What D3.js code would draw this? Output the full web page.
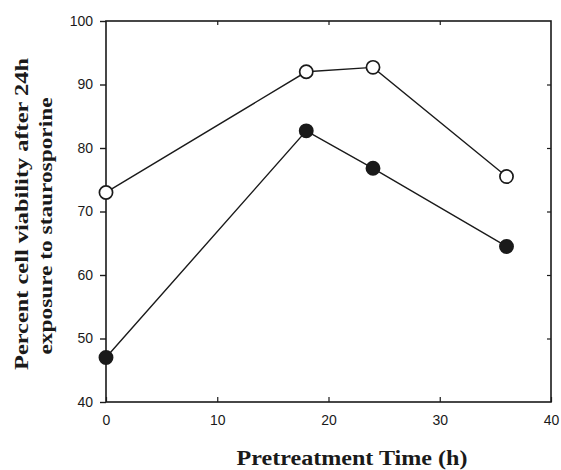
<!DOCTYPE html>
<html><head><meta charset="utf-8">
<script src="https://cdn.jsdelivr.net/npm/d3@7"></script>
<style>body{margin:0;background:#fff}</style>
</head><body>
<svg id="c" width="561" height="470"></svg>
<script>
const times = [0, 18, 24, 36];
const openValues = [73, 92, 92.7, 75.5];
const filledValues = [47, 82.7, 76.8, 64.5];
const xTicks = [0, 10, 20, 30, 40];
const yTicks = [40, 50, 60, 70, 80, 90, 100];
const xTitle = "Pretreatment Time (h)";
const yTitle = ["Percent cell viability after 24h", "exposure to staurosporine"];

const svg = d3.select("#c");
const L = 106, R = 551, T = 21, B = 402;
const x = d3.scaleLinear().domain([0, 40]).range([L, R]);
const y = d3.scaleLinear().domain([40, 100]).range([B, T]);
const ink = "#1a1a1a";

// frame
svg.append("rect").attr("x", L).attr("y", T).attr("width", R - L).attr("height", B - T)
  .attr("fill", "none").attr("stroke", ink).attr("stroke-width", 1.6);

// left axis ticks outward
const ay = svg.append("g").attr("transform", `translate(${L},0)`)
  .call(d3.axisLeft(y).tickValues(yTicks).tickSize(6).tickPadding(7).tickFormat(d3.format("d")));
ay.select(".domain").remove();
ay.selectAll("line").attr("stroke", ink).attr("stroke-width", 1.4);
ay.selectAll("text").attr("font-family", "Liberation Sans, Arial, sans-serif").attr("font-size", 14).attr("fill", ink);

// bottom axis ticks inward
const ax = svg.append("g").attr("transform", `translate(0,${B})`)
  .call(d3.axisBottom(x).tickValues(xTicks).tickSizeInner(-5).tickSizeOuter(0).tickPadding(13).tickFormat(d3.format("d")));
ax.select(".domain").remove();
ax.selectAll("line").attr("stroke", ink).attr("stroke-width", 1.2);
ax.selectAll("text").attr("font-family", "Liberation Sans, Arial, sans-serif").attr("font-size", 14).attr("fill", ink);

// top axis ticks inward
const at = svg.append("g").attr("transform", `translate(0,${T})`)
  .call(d3.axisTop(x).tickValues(xTicks.slice(1, -1)).tickSizeInner(-4).tickSizeOuter(0).tickFormat(""));
at.select(".domain").remove();
at.selectAll("line").attr("stroke", ink).attr("stroke-width", 1.2);

// right axis ticks inward
const ar = svg.append("g").attr("transform", `translate(${R},0)`)
  .call(d3.axisRight(y).tickValues(yTicks.slice(1, -1)).tickSizeInner(-4).tickSizeOuter(0).tickFormat(""));
ar.select(".domain").remove();
ar.selectAll("line").attr("stroke", ink).attr("stroke-width", 1.2);

const line = d3.line().x(d => x(d[0])).y(d => y(d[1]));
function series(vals, fill) {
  const pts = times.map((t, i) => [t, vals[i]]);
  svg.append("path").datum(pts).attr("d", line).attr("fill", "none")
    .attr("stroke", ink).attr("stroke-width", 1.4);
  svg.selectAll(null).data(pts).enter().append("circle")
    .attr("cx", d => x(d[0])).attr("cy", d => y(d[1])).attr("r", 6.6)
    .attr("fill", fill).attr("stroke", ink).attr("stroke-width", 1.7);
}
series(openValues, "#fff");
series(filledValues, ink);

// titles
svg.append("text").attr("x", 352).attr("y", 465).attr("text-anchor", "middle")
  .attr("font-family", "Liberation Serif, serif").attr("font-weight", "bold").attr("font-size", 20)
  .attr("textLength", 231).attr("lengthAdjust", "spacingAndGlyphs")
  .attr("fill", ink).text(xTitle);

const ytPos = [{c: 214, b: 28, len: 312}, {c: 226, b: 52, len: 257}];
const yt = svg.append("g").attr("transform", "rotate(-90)");
yt.selectAll("text").data(yTitle).enter().append("text")
  .attr("x", (d, i) => -ytPos[i].c).attr("y", (d, i) => ytPos[i].b).attr("text-anchor", "middle")
  .attr("font-family", "Liberation Serif, serif").attr("font-weight", "bold").attr("font-size", 19)
  .attr("textLength", (d, i) => ytPos[i].len).attr("lengthAdjust", "spacingAndGlyphs")
  .attr("fill", ink).text(d => d);
</script>
</body></html>
